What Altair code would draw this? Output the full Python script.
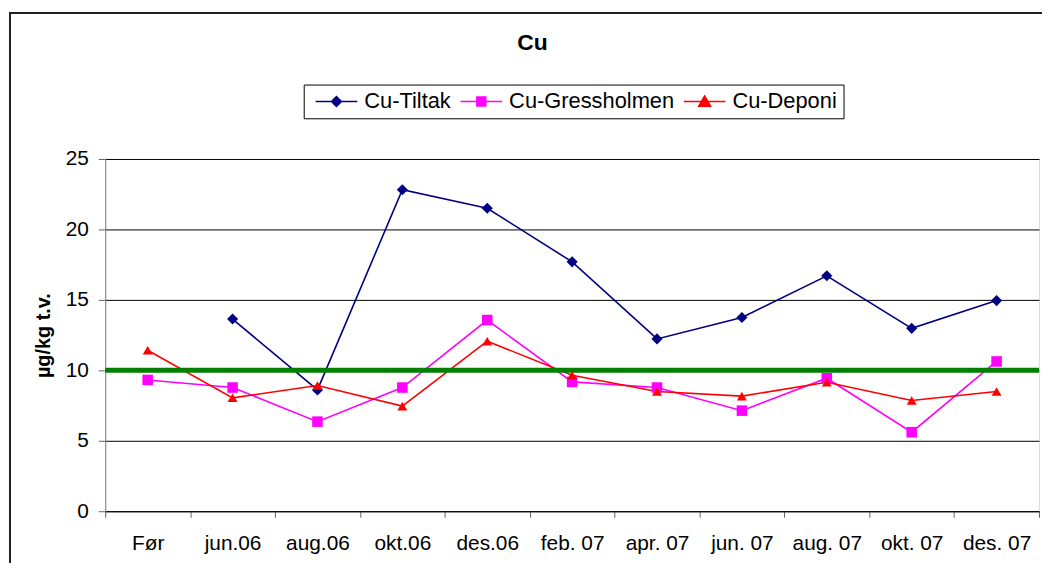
import altair as alt
import pandas as pd

months = ["Før", "jun.06", "aug.06", "okt.06", "des.06", "feb. 07",
          "apr. 07", "jun. 07", "aug. 07", "okt. 07", "des. 07"]
tiltak = [None, 13.64, 8.61, 22.82, 21.5, 17.7, 12.23, 13.75, 16.71, 12.98, 14.95]
gressholmen = [9.32, 8.78, 6.36, 8.78, 13.57, 9.18, 8.78, 7.14, 9.44, 5.61, 10.63]
deponi = [11.43, 8.05, 8.92, 7.46, 12.07, 9.65, 8.5, 8.17, 9.15, 7.86, 8.5]
series_names = ["Cu-Tiltak", "Cu-Gressholmen", "Cu-Deponi"]
series_colors = ["#000080", "#FF00FF", "#FF0000"]
marker_shapes = ["diamond", "square", "triangle-up"]
marker_sizes = [125, 100, 220]
legend_paths = [
    "M-4.2,0H4.2M0,-1L1,0L0,1L-1,0Z",
    "M-4.2,0H4.2M-0.9,-0.9H0.9V0.9H-0.9Z",
    "M-4.2,0H4.2M0,-1.1L1.2,0.95H-1.2Z",
]
limit = [10]
y_ticks = [0, 5, 10, 15, 20, 25]

FONT = "Liberation Sans"

rows = []
for name, vals in zip(series_names, [tiltak, gressholmen, deponi]):
    for m, v in zip(months, vals):
        rows.append({"month": m, "series": name, "value": v})
df = pd.DataFrame(rows)

x_enc = alt.X(
    "month:N", sort=months,
    scale=alt.Scale(type="band", domain=months, paddingInner=0, paddingOuter=0),
    axis=alt.Axis(title=None, labelAngle=0, tickBand="extent", tickSize=6,
                  labelPadding=16, labelFont=FONT, labelFontSize=21,
                  labelColor="black", domainColor="black", tickColor="#606060",
                  grid=False, labelLimit=200),
)
y_enc = alt.Y(
    "value:Q",
    scale=alt.Scale(domain=[0, 25], nice=False, zero=True),
    axis=alt.Axis(values=y_ticks, title="µg/kg t.v.", titleFont=FONT,
                  titleFontSize=20, titleFontWeight="bold", titleColor="black",
                  titlePadding=12, labelFont=FONT, labelFontSize=21,
                  labelColor="black", labelPadding=10, tickSize=7,
                  tickColor="#606060", domainColor="#808080", grid=True,
                  gridColor="black", gridWidth=1),
)
color_scale = alt.Scale(domain=series_names, range=series_colors)

base = alt.Chart(df)

lines = base.mark_line(strokeWidth=1.6).encode(
    x=x_enc, y=y_enc,
    color=alt.Color("series:N", scale=color_scale, legend=None),
)

rule = alt.Chart(pd.DataFrame({"limit": limit})).mark_rule(
    color="#008000", strokeWidth=5
).encode(y=alt.Y("limit:Q"))

points = base.mark_point(filled=True, opacity=1).encode(
    x=x_enc, y=y_enc,
    color=alt.Color("series:N", scale=color_scale, legend=None),
    shape=alt.Shape("series:N", scale=alt.Scale(domain=series_names, range=marker_shapes), legend=None),
    size=alt.Size("series:N", scale=alt.Scale(domain=series_names, range=marker_sizes), legend=None),
)

leg = alt.Legend(
    orient="none", legendX=200, legendY=-75, direction="horizontal", title=None,
    labelFont=FONT, labelFontSize=22, labelColor="black", labelLimit=300,
    symbolSize=100, symbolStrokeWidth=1.5, symbolOffset=16, labelOffset=17,
    columnPadding=3, padding=6, strokeColor="black", fillColor="white",
    symbolOpacity=1,
)
legend_layer = base.mark_point(filled=True, strokeWidth=1.5).encode(
    x=x_enc, y=y_enc,
    fill=alt.Fill("series:N", scale=color_scale, legend=leg),
    stroke=alt.Stroke("series:N", scale=color_scale, legend=leg),
    shape=alt.Shape("series:N", scale=alt.Scale(domain=series_names, range=legend_paths), legend=leg),
    opacity=alt.value(0),
)

frame = alt.Chart(alt.Data(values=[{}])).mark_rect(
    filled=False, stroke="#202020", strokeWidth=2
).encode(x=alt.value(-96), x2=alt.value(1000), y=alt.value(-147), y2=alt.value(600))

chart = alt.layer(frame, lines, rule, points, legend_layer).resolve_scale(
    shape="independent", fill="independent", stroke="independent"
).properties(
    width=941, height=355,
    autosize=alt.AutoSizeParams(type="none"),
    padding={"left": 98, "top": 150, "right": 3, "bottom": 50},
    title=alt.TitleParams("Cu", font=FONT, fontSize=23, fontWeight="bold",
                          anchor="middle", frame="group", dx=-40, dy=72,
                          offset=18, baseline="middle", color="black"),
).configure_view(stroke=None).configure(background="white")

chart.save("out.html", embed_options={"renderer": "svg", "actions": False})
